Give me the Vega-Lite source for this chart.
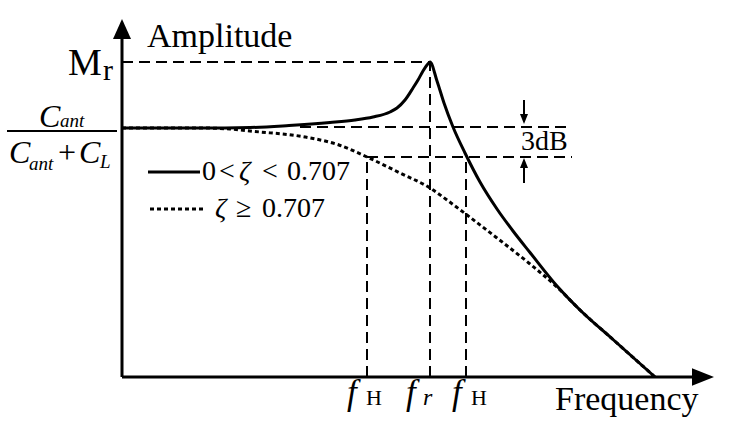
{
  "$schema": "https://vega.github.io/schema/vega-lite/v6.json",
  "width": 734,
  "height": 435,
  "autosize": {"type": "none"},
  "padding": 0,
  "background": "white",
  "config": {"view": {"stroke": null}, "text": {"font": "Liberation Serif"}},
  "encoding": {
    "x": {"field": "x", "type": "quantitative", "scale": {"domain": [0, 734], "nice": false, "zero": false}, "axis": null},
    "y": {"field": "y", "type": "quantitative", "scale": {"domain": [-58, 377], "nice": false, "zero": false}, "axis": null}
  },
  "layer": [
    {
      "data": {"values": [
        {"x": 122, "y": 249}, {"x": 200, "y": 249}, {"x": 250, "y": 249.5}, {"x": 289, "y": 251.5},
        {"x": 330, "y": 254.5}, {"x": 355, "y": 257}, {"x": 373, "y": 260}, {"x": 390, "y": 265},
        {"x": 397, "y": 269}, {"x": 405, "y": 277}, {"x": 413, "y": 289}, {"x": 418, "y": 297},
        {"x": 423, "y": 306}, {"x": 427, "y": 312}, {"x": 430, "y": 315}, {"x": 437, "y": 296},
        {"x": 444, "y": 274}, {"x": 453, "y": 250}, {"x": 465, "y": 224}, {"x": 480, "y": 195},
        {"x": 497, "y": 168}, {"x": 513, "y": 146}, {"x": 530, "y": 124.5}, {"x": 557, "y": 91},
        {"x": 580, "y": 67}, {"x": 613, "y": 37.5}, {"x": 655, "y": 0}
      ]},
      "mark": {"type": "line", "color": "black", "strokeWidth": 3, "interpolate": "monotone"}
    },
    {
      "data": {"values": [
        {"x": 122, "y": 249}, {"x": 200, "y": 249}, {"x": 230, "y": 248}, {"x": 255, "y": 245.5},
        {"x": 305, "y": 240}, {"x": 339, "y": 232}, {"x": 367, "y": 220}, {"x": 400, "y": 204},
        {"x": 430, "y": 189}, {"x": 447, "y": 177}, {"x": 467, "y": 162}, {"x": 497, "y": 139},
        {"x": 530, "y": 113}, {"x": 557, "y": 90}, {"x": 580, "y": 67}, {"x": 613, "y": 37.5},
        {"x": 655, "y": 0}
      ]},
      "mark": {"type": "line", "color": "black", "strokeWidth": 3, "strokeDash": [4, 3], "interpolate": "monotone"}
    },
    {
      "data": {"values": [
        {"x": 122, "y": 315, "x2": 430, "y2": 315},
        {"x": 300, "y": 250, "x2": 570, "y2": 250},
        {"x": 367, "y": 220, "x2": 572, "y2": 220},
        {"x": 367, "y": 0, "x2": 367, "y2": 220},
        {"x": 430, "y": 0, "x2": 430, "y2": 315},
        {"x": 466, "y": 0, "x2": 466, "y2": 220}
      ]},
      "mark": {"type": "rule", "color": "black", "strokeWidth": 2, "strokeDash": [11, 6]},
      "encoding": {"x2": {"field": "x2"}, "y2": {"field": "y2"}}
    },
    {
      "data": {"values": [
        {"x": 122, "y": 0, "x2": 122, "y2": 350},
        {"x": 122, "y": 0, "x2": 700, "y2": 0},
        {"x": 148, "y": 205, "x2": 200, "y2": 205}
      ]},
      "mark": {"type": "rule", "color": "black", "strokeWidth": 3},
      "encoding": {"x2": {"field": "x2"}, "y2": {"field": "y2"}}
    },
    {
      "data": {"values": [
        {"x": 7, "y": 246, "x2": 117, "y2": 246},
        {"x": 524, "y": 277, "x2": 524, "y2": 260},
        {"x": 524, "y": 212, "x2": 524, "y2": 194}
      ]},
      "mark": {"type": "rule", "color": "black", "strokeWidth": 2},
      "encoding": {"x2": {"field": "x2"}, "y2": {"field": "y2"}}
    },
    {
      "data": {"values": [{"x": 150, "y": 168, "x2": 203, "y2": 168}]},
      "mark": {"type": "rule", "color": "black", "strokeWidth": 3, "strokeDash": [4, 3]},
      "encoding": {"x2": {"field": "x2"}, "y2": {"field": "y2"}}
    },
    {
      "data": {"values": [{"x": 122, "y": 348}]},
      "mark": {"type": "point", "shape": "M0,-1L0.9,1L-0.9,1Z", "size": 400, "filled": true, "color": "black", "opacity": 1, "strokeWidth": 0}
    },
    {
      "data": {"values": [{"x": 703, "y": 0}]},
      "mark": {"type": "point", "shape": "M1,0L-1,-0.8L-1,0.8Z", "size": 484, "filled": true, "color": "black", "opacity": 1, "strokeWidth": 0}
    },
    {
      "data": {"values": [{"x": 524, "y": 258}]},
      "mark": {"type": "point", "shape": "M0,1L0.8,-1L-0.8,-1Z", "size": 100, "filled": true, "color": "black", "opacity": 1, "strokeWidth": 0}
    },
    {
      "data": {"values": [{"x": 524, "y": 214}]},
      "mark": {"type": "point", "shape": "M0,-1L0.8,1L-0.8,1Z", "size": 100, "filled": true, "color": "black", "opacity": 1, "strokeWidth": 0}
    },
    {
      "data": {"values": [{"x": 147, "y": 330, "t": "Amplitude"}, {"x": 555, "y": -33, "t": "Frequency"}]},
      "mark": {"type": "text", "font": "Liberation Serif", "fontSize": 34, "align": "left", "baseline": "alphabetic", "color": "black"},
      "encoding": {"text": {"field": "t"}}
    },
    {
      "data": {"values": [{"x": 68, "y": 302, "t": "M"}]},
      "mark": {"type": "text", "font": "Liberation Serif", "fontSize": 38, "align": "left", "baseline": "alphabetic", "color": "black"},
      "encoding": {"text": {"field": "t"}}
    },
    {
      "data": {"values": [{"x": 103, "y": 297, "t": "r"}]},
      "mark": {"type": "text", "font": "Liberation Serif", "fontSize": 30, "align": "left", "baseline": "alphabetic", "color": "black"},
      "encoding": {"text": {"field": "t"}}
    },
    {
      "data": {"values": [{"x": 39, "y": 250, "t": "C"}, {"x": 9, "y": 214, "t": "C"}, {"x": 79, "y": 214, "t": "C"}]},
      "mark": {"type": "text", "font": "Liberation Serif", "fontSize": 32, "fontStyle": "italic", "align": "left", "baseline": "alphabetic", "color": "black"},
      "encoding": {"text": {"field": "t"}}
    },
    {
      "data": {"values": [{"x": 60, "y": 250, "t": "ant"}, {"x": 29, "y": 207, "t": "ant"}, {"x": 100, "y": 209, "t": "L"}]},
      "mark": {"type": "text", "font": "Liberation Serif", "fontSize": 19, "fontStyle": "italic", "align": "left", "baseline": "alphabetic", "color": "black"},
      "encoding": {"text": {"field": "t"}}
    },
    {
      "data": {"values": [{"x": 58, "y": 214, "t": "+"}]},
      "mark": {"type": "text", "font": "Liberation Serif", "fontSize": 32, "align": "left", "baseline": "alphabetic", "color": "black"},
      "encoding": {"text": {"field": "t"}}
    },
    {
      "data": {"values": [
        {"x": 202, "y": 197, "t": "0"}, {"x": 219, "y": 197, "t": "<"}, {"x": 262, "y": 197, "t": "<"},
        {"x": 287, "y": 197, "t": "0.707"}, {"x": 236, "y": 160, "t": "≥"}, {"x": 262, "y": 160, "t": "0.707"}
      ]},
      "mark": {"type": "text", "font": "Liberation Serif", "fontSize": 28, "align": "left", "baseline": "alphabetic", "color": "black"},
      "encoding": {"text": {"field": "t"}}
    },
    {
      "data": {"values": [{"x": 239, "y": 197, "t": "ζ"}, {"x": 215, "y": 160, "t": "ζ"}]},
      "mark": {"type": "text", "font": "Liberation Serif", "fontSize": 28, "fontStyle": "italic", "align": "left", "baseline": "alphabetic", "color": "black"},
      "encoding": {"text": {"field": "t"}}
    },
    {
      "data": {"values": [{"x": 521, "y": 227, "t": "3dB"}]},
      "mark": {"type": "text", "font": "Liberation Serif", "fontSize": 28, "align": "left", "baseline": "alphabetic", "color": "black"},
      "encoding": {"text": {"field": "t"}}
    },
    {
      "data": {"values": [{"x": 347, "y": -27, "t": "f"}, {"x": 406, "y": -27, "t": "f"}, {"x": 452, "y": -27, "t": "f"}]},
      "mark": {"type": "text", "font": "Liberation Serif", "fontSize": 35, "fontStyle": "italic", "align": "left", "baseline": "alphabetic", "color": "black"},
      "encoding": {"text": {"field": "t"}}
    },
    {
      "data": {"values": [{"x": 366, "y": -28, "t": "H"}, {"x": 471, "y": -28, "t": "H"}]},
      "mark": {"type": "text", "font": "Liberation Serif", "fontSize": 22, "align": "left", "baseline": "alphabetic", "color": "black"},
      "encoding": {"text": {"field": "t"}}
    },
    {
      "data": {"values": [{"x": 423, "y": -28, "t": "r"}]},
      "mark": {"type": "text", "font": "Liberation Serif", "fontSize": 24, "fontStyle": "italic", "align": "left", "baseline": "alphabetic", "color": "black"},
      "encoding": {"text": {"field": "t"}}
    }
  ]
}
